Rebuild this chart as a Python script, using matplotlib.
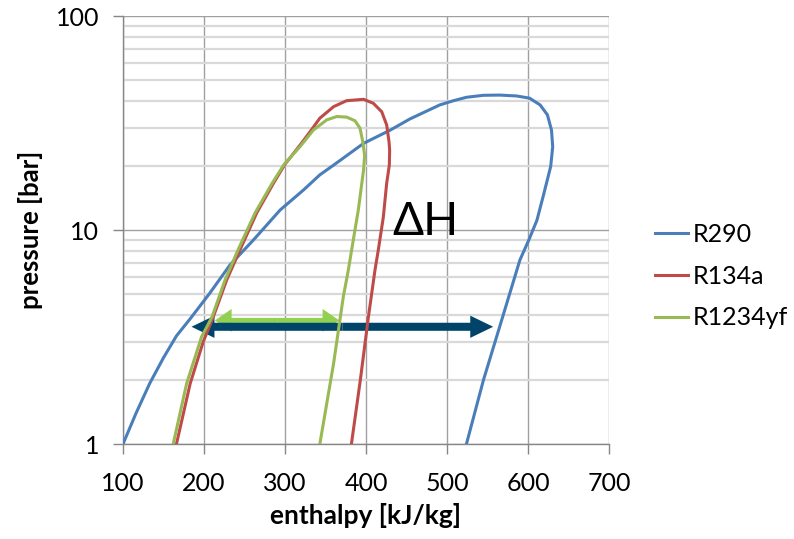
import matplotlib
matplotlib.use("Agg")
import matplotlib.pyplot as plt
from matplotlib.patches import FancyArrowPatch
from matplotlib.ticker import FixedLocator, NullFormatter

plt.rcParams['font.family'] = ['Lato', 'DejaVu Sans']

# ---- data ----
r290_h = [100, 116, 133, 150, 166, 183, 207, 232, 261, 294, 323, 343, 360, 397, 430, 454, 491, 508, 524,
          545, 565, 586, 602, 615, 624, 629, 630.5, 628, 619, 611, 601, 590, 565, 545, 524]
r290_p = [1, 1.39, 1.92, 2.53, 3.2, 3.85, 5.06, 6.86, 8.98, 12.4, 15.4, 18.1, 20.1, 25.4, 29.3, 33.0, 38.4, 40.2, 41.7,
          42.6, 42.7, 42.3, 41.3, 38.4, 34.5, 29.3, 24.5, 19.8, 14.5, 11.1, 8.98, 7.24, 3.53, 1.99, 1]

r134a_h = [166, 183, 199, 211.5, 228, 244.4, 265, 285.6, 300, 318.5, 331, 343, 360, 376, 397,
           409, 419.4, 425.5, 428.4, 429.2, 428.8, 425.5, 421.4, 415.2, 411.1, 403, 393, 382]
r134a_p = [1, 1.92, 3.0, 3.93, 5.84, 8.07, 12, 16.5, 20.3, 24.9, 28.8, 33.3, 37.7, 40.2, 40.8,
           39.1, 35.7, 31, 25.9, 23.6, 20.1, 16.5, 11.5, 8.07, 6.5, 3.93, 1.99, 1]

r1234yf_h = [162, 178.6, 197, 210, 226, 242, 263, 284, 299, 318.5, 335, 351.5, 364, 376, 386.4,
             392.6, 396, 398.3, 397, 390.5, 384.3, 378.2, 372, 360, 343]
r1234yf_p = [1, 1.92, 3.17, 3.93, 5.84, 8.07, 12, 16.5, 20.3, 24.5, 29.3, 32.7, 33.9, 33.7, 32.4,
             29.9, 25.9, 22.3, 19.1, 12.4, 8.98, 6.5, 4.88, 2.38, 1]

series_names = ['R290', 'R134a', 'R1234yf']
series_colors = ['#4A7EBB', '#BE4B48', '#98B954']

# double arrows (enthalpy span at constant pressure)
navy_arrow_h = [184.6, 557]
navy_arrow_p = 3.53
green_arrow_h = [213.5, 367]
green_arrow_p = 3.78

x_ticks = [100, 200, 300, 400, 500, 600, 700]
y_ticks = [1, 10, 100]
y_ticklabels = ['1', '10', '100']

# ---- figure ----
W, H = 794, 539
fig = plt.figure(figsize=(W / 100, H / 100), dpi=100)
ax = fig.add_axes([123 / W, (H - 444) / H, (609 - 123) / W, (444 - 16) / H])

ax.set_yscale('log')
ax.set_xlim(100, 700)
ax.set_ylim(1, 100)

ax.set_xticks(x_ticks)
ax.set_yticks(y_ticks)
ax.set_yticklabels(y_ticklabels)
ax.yaxis.set_minor_locator(FixedLocator([2, 3, 4, 5, 6, 7, 8, 9, 20, 30, 40, 50, 60, 70, 80, 90]))
ax.yaxis.set_minor_formatter(NullFormatter())

ax.set_axisbelow(True)
ax.grid(True, which='major', axis='both', color='#A0A0A0', lw=1.0)
ax.grid(True, which='minor', axis='y', color='#D9D9D9', lw=1.6)

for s in ['top', 'right']:
    ax.spines[s].set_visible(False)
for s in ['left', 'bottom']:
    ax.spines[s].set_color('#868686')
    ax.spines[s].set_linewidth(1.0)

ax.tick_params(axis='both', which='major', direction='out', length=7, width=1,
               color='#868686', labelsize=18, labelcolor='black')
ax.tick_params(axis='x', pad=13)
ax.tick_params(axis='y', pad=10)
ax.tick_params(axis='y', which='minor', length=0)

ax.set_xlabel('enthalpy [kJ/kg]', fontsize=19, fontweight='bold', labelpad=6)
ax.set_ylabel('pressure [bar]', fontsize=18.5, fontweight='bold', labelpad=9)

# arrows
def double_arrow(h_pair, p, color, hl, hw, tw, z):
    mid = (h_pair[0] + h_pair[1]) / 2
    for end in h_pair:
        a = FancyArrowPatch((mid, p), (end, p),
                            arrowstyle=f'simple,head_length={hl},head_width={hw},tail_width={tw}',
                            mutation_scale=1, color=color, lw=0, shrinkA=0, shrinkB=0, zorder=z)
        ax.add_patch(a)

double_arrow(green_arrow_h, green_arrow_p, '#92D050', 12, 16.5, 3.6, 1.5)
double_arrow(navy_arrow_h, navy_arrow_p, '#00446A', 16.5, 16, 5.8, 1.6)

# curves
for hs, ps, c, n in zip([r290_h, r134a_h, r1234yf_h], [r290_p, r134a_p, r1234yf_p],
                        series_colors, series_names):
    ax.plot(hs, ps, color=c, lw=2.2, label=n, zorder=3, solid_joinstyle='round')

ax.text(433, 9.48, '\u0394H', fontsize=33, ha='left', va='baseline', color='black')

leg = ax.legend(loc='center left', bbox_to_anchor=(655 / W, (H - 276) / H),
                bbox_transform=fig.transFigure, frameon=False, fontsize=18,
                handlelength=1.3, handletextpad=0.2, labelspacing=0.75,
                borderpad=0, borderaxespad=0)

fig.savefig('out.png', dpi=100)
